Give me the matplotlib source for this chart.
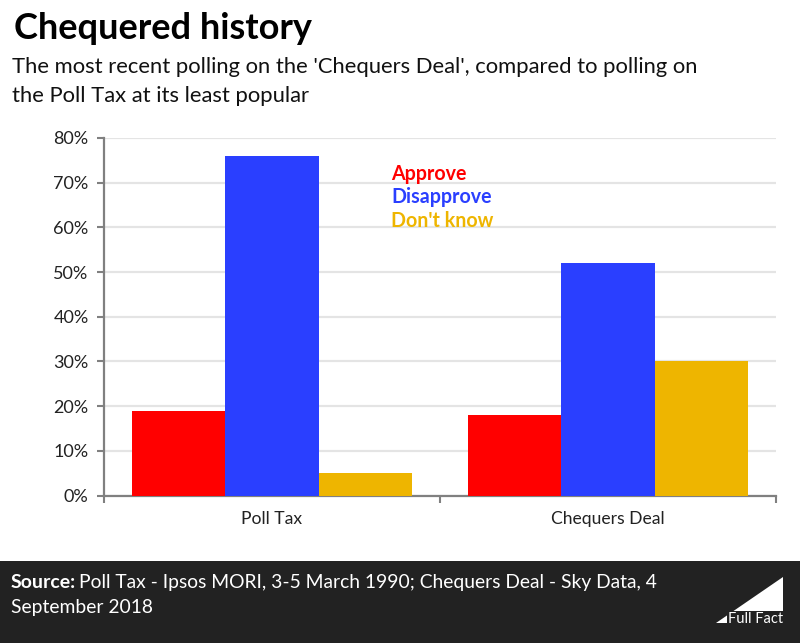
import matplotlib
matplotlib.use('Agg')
import matplotlib.pyplot as plt
from matplotlib.patches import Polygon, Rectangle

categories = ['Poll Tax', 'Chequers Deal']
approve = [19, 18]
disapprove = [76, 52]
dont_know = [5, 30]
y_ticks = [0, 10, 20, 30, 40, 50, 60, 70, 80]

RED = '#ff0000'
BLUE = '#2a3fff'
YELLOW = '#eeb500'
DARK = '#222222'

W, H = 800, 643
plt.rcParams['font.family'] = ['Lato', 'DejaVu Sans']

fig = plt.figure(figsize=(W / 100, H / 100), dpi=100)


def fx(x):
    return x / W


def fy(y):
    return 1 - y / H


# axes box in pixels from the reference
ax = fig.add_axes([fx(104), fy(495.5), (776 - 104) / W, (495.5 - 138) / H])

bar_w = 0.278
x = range(len(categories))
ax.bar([i - bar_w for i in x], approve, bar_w, color=RED, zorder=3)
ax.bar(list(x), disapprove, bar_w, color=BLUE, zorder=3)
ax.bar([i + bar_w for i in x], dont_know, bar_w, color=YELLOW, zorder=3)

ax.set_xlim(-0.5, 1.5)
ax.set_ylim(0, 80)
ax.set_yticks(y_ticks)
ax.set_yticklabels([f'{v}%' for v in y_ticks], fontsize=13, color='#222222')
ax.set_xticks([-0.5, 0.5, 1.5])
ax.set_xticklabels([])
ax.set_xticks([0, 1], minor=True)
ax.set_xticklabels(categories, minor=True, fontsize=12.6, color='#222222')
ax.tick_params(axis='x', which='minor', length=0, pad=11)
ax.tick_params(axis='x', which='major', length=5, width=1.5, color='#808080')
ax.tick_params(axis='y', length=5, width=1.5, color='#808080', pad=6)

ax.grid(axis='y', color='#e4e4e4', linewidth=1.6, zorder=0)
ax.set_axisbelow(True)
for s in ['top', 'right']:
    ax.spines[s].set_visible(False)
for s in ['left', 'bottom']:
    ax.spines[s].set_color('#808080')
    ax.spines[s].set_linewidth(1.6)

# title block
fig.text(fx(14), fy(39), 'Chequered history', fontsize=26, fontweight='bold',
         color='black', va='baseline')
fig.text(fx(12), fy(73), "The most recent polling on the 'Chequers Deal', compared to polling on",
         fontsize=15.8, color='#111111', va='baseline')
fig.text(fx(12), fy(102), 'the Poll Tax at its least popular',
         fontsize=15.8, color='#111111', va='baseline')

# legend as coloured text
fig.text(fx(391), fy(180), 'Approve', fontsize=14.1, fontweight='bold', color=RED, va='baseline')
fig.text(fx(391), fy(203), 'Disapprove', fontsize=14.1, fontweight='bold', color=BLUE, va='baseline')
fig.text(fx(391), fy(227), "Don't know", fontsize=14.1, fontweight='bold', color=YELLOW, va='baseline')

# footer
fig.add_artist(Rectangle((0, 0), 1, fy(561), transform=fig.transFigure, color=DARK, lw=0))
fig.text(fx(11), fy(588), 'Source:', fontsize=14, fontweight='bold', color='white', va='baseline')
fig.text(fx(79), fy(588), 'Poll Tax - Ipsos MORI, 3-5 March 1990; Chequers Deal - Sky Data, 4',
         fontsize=13.9, color='white', va='baseline')
fig.text(fx(11), fy(613), 'September 2018', fontsize=13.9, color='white', va='baseline')

# logo
fig.add_artist(Polygon([(fx(716), fy(623)), (fx(783), fy(577)), (fx(783), fy(623))],
                       closed=True, transform=fig.transFigure, color='white', lw=0))
fig.text(fx(783), fy(623), 'Full Fact', fontsize=10.5, color='white', ha='right', va='baseline',
         bbox=dict(facecolor=DARK, edgecolor='none', pad=0.5))

fig.savefig('out.png', dpi=100)
